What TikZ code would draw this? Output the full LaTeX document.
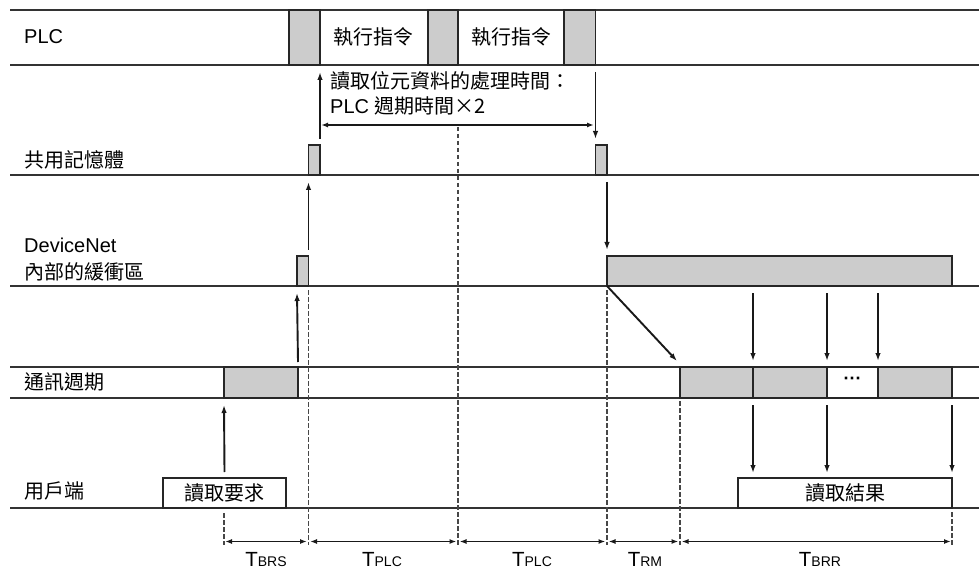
\documentclass[tikz,border=0pt]{standalone}
\usepackage{fontspec}
\setmainfont{Liberation Sans}
\newfontfamily\cjk{Noto Sans CJK TC}
\usetikzlibrary{arrows.meta}
\newcommand{\zh}[1]{{\cjk\fontsize{20}{24}\selectfont #1}}
\newcommand{\tsub}[1]{{\fontsize{14}{14}\selectfont #1}}
\begin{document}
\begin{tikzpicture}[x=1pt,y=-1pt,
  hline/.style={line width=2.1pt, draw=black!80},
  gblk/.style={draw=black!85, line width=1.7pt, fill=black!20, inner sep=0pt, outer sep=0pt, anchor=north west},
  wblk/.style={draw=black!85, line width=1.7pt, fill=white, inner sep=0pt, outer sep=0pt, anchor=north west},
  arr/.style={-{Latex[length=8pt,width=5.5pt]}, line width=1.9pt, draw=black!90},
  dim/.style={{Latex[length=7pt,width=5pt]}-{Latex[length=7pt,width=5pt]}, line width=1.6pt, draw=black!90},
  dline/.style={line width=1.1pt, draw=black!72, dash pattern=on 4.5pt off 2.5pt},
  lab/.style={anchor=west, inner sep=0pt, font=\fontsize{20}{24}\selectfont},
  txt/.style={inner sep=0pt, font=\fontsize{20}{24}\selectfont},
  tlab/.style={inner sep=0pt, font=\fontsize{20.5}{21}\selectfont}
]
\fill[white] (0,0) rectangle (979,569);
\useasboundingbox (0,0) rectangle (979,569);

% horizontal time lines
\foreach \yy in {10,65,175,286,367,398,508}
  \draw[hline] (10,\yy) -- (979,\yy);

% dashed guides
\draw[dline] (224,513) -- (224,545);
\draw[dline] (308.5,290) -- (308.5,545);
\draw[dline] (458,127) -- (458,545);
\draw[dline] (607,290) -- (607,545);
\draw[dline] (680,401) -- (680,545);
\draw[dline] (952,512) -- (952,545);

% row labels
\node[lab] (lplc) at (24,37) {PLC};
\node[lab] (lsm) at (24,160) {\zh{共用記憶體}};
\node[lab] (ldn1) at (24,245) {DeviceNet};
\node[lab] (ldn2) at (24,272) {\zh{內部的緩衝區}};
\node[lab] (lcc) at (24,382) {\zh{通訊週期}};
\node[lab] (lcl) at (24,491) {\zh{用戶端}};

% PLC row
\node[gblk, minimum width=31pt, minimum height=55pt] (pg1) at (289,10) {};
\node[gblk, minimum width=30pt, minimum height=55pt] (pg2) at (428,10) {};
\node[gblk, minimum width=31.5pt, minimum height=55pt] (pg3) at (564,10) {};
\node[txt] (ex1) at (373,37) {\zh{執行指令}};
\node[txt] (ex2) at (511,37) {\zh{執行指令}};

% shared memory
\node[gblk, minimum width=11.5pt, minimum height=30pt] (sm1) at (308.5,145) {};
\node[gblk, minimum width=11.5pt, minimum height=30pt] (sm2) at (595.5,145) {};

% DeviceNet buffer
\node[gblk, minimum width=11.5pt, minimum height=30pt] (db1) at (297,256) {};
\node[gblk, minimum width=345pt, minimum height=30pt] (db2) at (607,256) {};

% communication cycle
\node[gblk, minimum width=74pt, minimum height=31pt] (cb1) at (224,367) {};
\node[gblk, minimum width=73pt, minimum height=31pt] (cb2) at (680,367) {};
\node[gblk, minimum width=74pt, minimum height=31pt] (cb3) at (753,367) {};
\node[wblk, minimum width=51pt, minimum height=31pt] (cb4) at (827,367) {};
\node[gblk, minimum width=74pt, minimum height=31pt] (cb5) at (878,367) {};
\node[txt, font=\bfseries\fontsize{18}{20}\selectfont] (dots) at (852.5,381) {···};

% client
\node[wblk, minimum width=123pt, minimum height=30pt] (req) at (163,478) {};
\node[txt] (reqt) at (req.center) {\zh{讀取要求}};
\node[wblk, minimum width=214pt, minimum height=30pt] (res) at (738,478) {};
\node[txt] (rest) at (res.center) {\zh{讀取結果}};

% annotation
\node[anchor=north west, inner sep=0pt, align=left, font=\fontsize{20}{25}\selectfont] (note) at (330,71)
  {\zh{讀取位元資料的處理時間：}\\PLC \zh{週期時間×2}};

% arrows
\draw[arr] ([yshift=6pt]sm1.north east) -- ([yshift=-7pt]pg1.south east);
\draw[arr] ([yshift=-7pt]pg3.south east) -- ([yshift=6pt]sm2.north west);
\coordinate (h1) at (321,125);
\coordinate (h2) at (594,125);
\draw[dim] (h1) -- (h2);
\draw[arr] ([yshift=6pt]db1.north east) -- ([yshift=-7pt]sm1.south west);
\draw[arr] ([yshift=-7pt]sm2.south east) -- ([yshift=6pt]db2.north west);
\draw[arr] ([yshift=5pt]cb1.north east) -- ([yshift=-7pt]db1.south west);
\draw[arr] ([yshift=6pt]req.north) -- ([yshift=-7pt]cb1.south west);
\draw[arr] (db2.south west) -- ([xshift=-3pt,yshift=6pt]cb2.north west);

\coordinate (u1) at (cb3.north west |- db2.south);
\coordinate (u2) at (cb4.north west |- db2.south);
\coordinate (u3) at (cb5.north west |- db2.south);
\draw[arr] ([yshift=-7pt]u1) -- ([yshift=6pt]cb3.north west);
\draw[arr] ([yshift=-7pt]u2) -- ([yshift=6pt]cb4.north west);
\draw[arr] ([yshift=-7pt]u3) -- ([yshift=6pt]cb5.north west);

\coordinate (w1) at (cb3.south west |- res.north);
\coordinate (w2) at (cb4.south west |- res.north);
\draw[arr] ([yshift=-7pt]cb3.south west) -- ([yshift=5pt]w1);
\draw[arr] ([yshift=-7pt]cb4.south west) -- ([yshift=5pt]w2);
\draw[arr] ([yshift=-7pt]cb5.south east) -- ([yshift=5pt]res.north east);

% dimension arrows
\coordinate (m0) at (225,541.5);
\coordinate (m1a) at (307,541.5);
\coordinate (m1b) at (310,541.5);
\coordinate (m2a) at (456.5,541.5);
\coordinate (m2b) at (459.5,541.5);
\coordinate (m3a) at (605.5,541.5);
\coordinate (m3b) at (608.5,541.5);
\coordinate (m4a) at (678.5,541.5);
\coordinate (m4b) at (681.5,541.5);
\coordinate (m5) at (951,541.5);
\draw[dim] (m0) -- (m1a);
\draw[dim] (m1b) -- (m2a);
\draw[dim] (m2b) -- (m3a);
\draw[dim] (m3b) -- (m4a);
\draw[dim] (m4b) -- (m5);

\node[tlab, anchor=base] (tbrs) at (266,566) {T\tsub{BRS}};
\node[tlab, anchor=base] (tplc1) at (382,566) {T\tsub{PLC}};
\node[tlab, anchor=base] (tplc2) at (532,566) {T\tsub{PLC}};
\node[tlab, anchor=base] (trm) at (645,566) {T\tsub{RM}};
\node[tlab, anchor=base] (tbrr) at (820,566) {T\tsub{BRR}};
\end{tikzpicture}
\end{document}
